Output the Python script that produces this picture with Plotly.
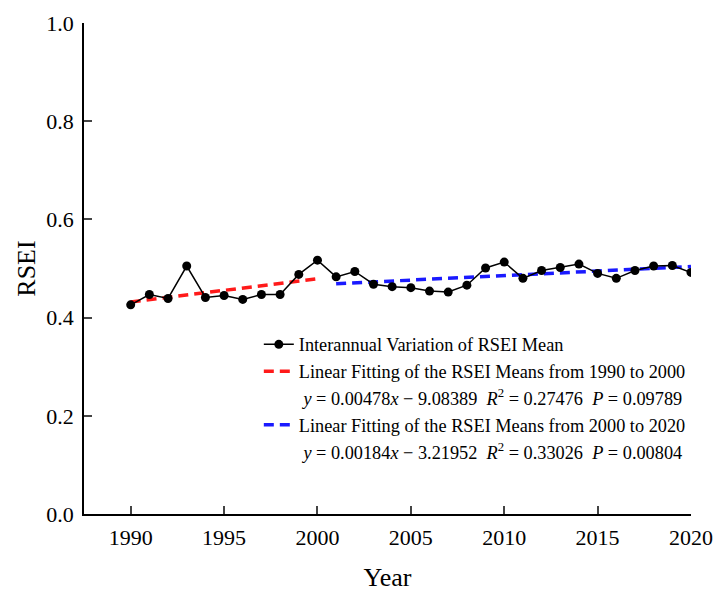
import plotly.graph_objects as go

years = list(range(1990, 2021))
rsei = [0.426, 0.447, 0.439, 0.505, 0.441, 0.445, 0.437, 0.447, 0.447, 0.488,
        0.517, 0.483, 0.494, 0.468, 0.463, 0.461, 0.454, 0.452, 0.466, 0.501,
        0.513, 0.480, 0.496, 0.502, 0.509, 0.490, 0.480, 0.496, 0.505, 0.506, 0.492]

fit1_x = [1990, 2000]
fit1_y = [0.432, 0.479]
fit2_x = [2001, 2020]
fit2_y = [0.469, 0.504]

x_ticks = [1990, 1995, 2000, 2005, 2010, 2015, 2020]
y_ticks = [0.0, 0.2, 0.4, 0.6, 0.8, 1.0]

SERIF = "Liberation Serif"
NB = "\u00a0\u00a0"

name1 = "Interannual Variation of RSEI Mean"
name2 = "Linear Fitting of the RSEI Means from 1990 to 2000"
eq2 = ("\u00a0<i>y</i> = 0.00478<i>x</i> \u2212 9.08389" + NB +
       "<i>R</i><sup>2</sup> = 0.27476" + NB + "<i>P</i> = 0.09789")
name3 = "Linear Fitting of the RSEI Means from 2000 to 2020"
eq3 = ("\u00a0<i>y</i> = 0.00184<i>x</i> \u2212 3.21952" + NB +
       "<i>R</i><sup>2</sup> = 0.33026" + NB + "<i>P</i> = 0.00804")

fig = go.Figure()
fig.add_trace(go.Scatter(x=fit1_x, y=fit1_y, mode="lines", name=name2,
                         legendrank=2,
                         line=dict(color="#ff1a1a", width=3.5, dash="10px,6px")))
fig.add_trace(go.Scatter(x=fit2_x, y=fit2_y, mode="lines", name=name3,
                         legendrank=4,
                         line=dict(color="#1a1aff", width=3.5, dash="10px,6px")))
fig.add_trace(go.Scatter(x=years, y=rsei, mode="lines+markers", name=name1,
                         legendrank=1,
                         line=dict(color="black", width=1.5),
                         marker=dict(color="black", size=9)))
# equation text rows of the legend (no marks)
fig.add_trace(go.Scatter(x=[None], y=[None], mode="lines", name=eq2,
                         legendrank=3, line=dict(color="rgba(0,0,0,0)", width=0),
                         hoverinfo="skip"))
fig.add_trace(go.Scatter(x=[None], y=[None], mode="lines", name=eq3,
                         legendrank=5, line=dict(color="rgba(0,0,0,0)", width=0),
                         hoverinfo="skip"))

fig.update_layout(
    width=717, height=592,
    margin=dict(l=84, r=26, t=23, b=78, autoexpand=False),
    paper_bgcolor="white", plot_bgcolor="white",
    font=dict(family=SERIF, color="black", size=22),
    showlegend=True,
    legend=dict(x=0.288, y=0.383, xanchor="left", yanchor="top",
                bgcolor="rgba(0,0,0,0)", font=dict(size=18.3, family=SERIF),
                tracegroupgap=0, traceorder="normal"),
    xaxis=dict(range=[1987.5, 2020], tickvals=x_ticks, ticks="inside",
               ticklen=8, tickwidth=1.5, showline=True, linecolor="black",
               linewidth=1.5, showgrid=False, zeroline=False, mirror=False,
               automargin=False,
               tickfont=dict(size=22, family=SERIF), ticklabelstandoff=3,
               title=dict(text="Year", font=dict(size=26, family=SERIF), standoff=26)),
    yaxis=dict(range=[0, 1], tickvals=y_ticks, tickformat=".1f",
               ticks="inside", ticklen=8, tickwidth=1.5, showline=True,
               linecolor="black", linewidth=1.5, showgrid=False,
               automargin=False,
               zeroline=False, tickfont=dict(size=22, family=SERIF), ticklabelstandoff=4,
               title=dict(text="RSEI", font=dict(size=26, family=SERIF), standoff=3)),
)

fig.write_html("out.html")
